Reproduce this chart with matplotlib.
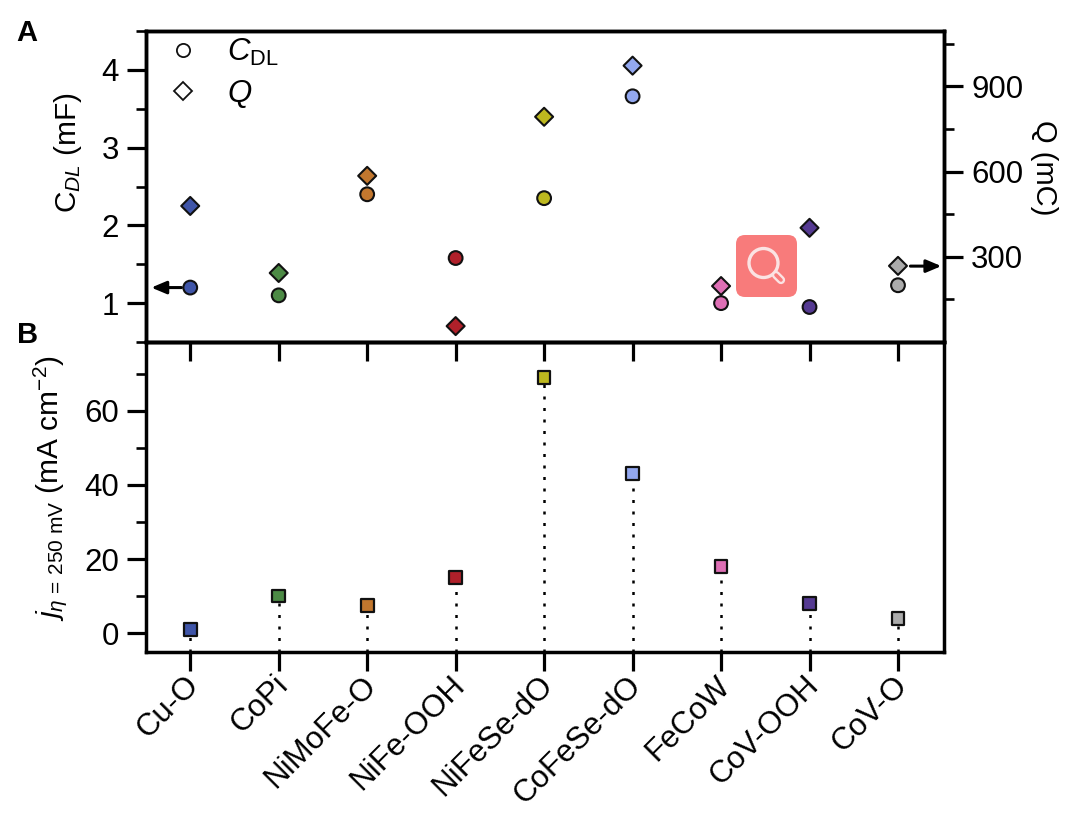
import matplotlib
matplotlib.use("Agg")
import matplotlib.pyplot as plt
from matplotlib.lines import Line2D
from matplotlib.patches import FancyBboxPatch, Circle
from matplotlib.ticker import FixedLocator
from matplotlib.transforms import ScaledTranslation

plt.rcParams['font.family'] = ['Liberation Sans', 'DejaVu Sans']
plt.rcParams['mathtext.fontset'] = 'custom'
plt.rcParams['mathtext.rm'] = 'Liberation Sans'
plt.rcParams['mathtext.it'] = 'Liberation Sans:italic'
plt.rcParams['mathtext.bf'] = 'Liberation Sans:bold'

catalysts = ["Cu-O", "CoPi", "NiMoFe-O", "NiFe-OOH", "NiFeSe-dO",
             "CoFeSe-dO", "FeCoW", "CoV-OOH", "CoV-O"]
cdl_mF = [1.2, 1.1, 2.4, 1.58, 2.35, 3.66, 1.0, 0.95, 1.23]
q_mC = [479, 243, 585, 56, 793, 973, 197, 402, 268]
j_mA = [1, 10, 7.5, 15, 69, 43, 18, 8, 4]
colors = ["#3F55A8", "#4C8A45", "#C2772E", "#B0202A", "#BDB81F",
          "#93A8F0", "#DE6FB5", "#553A92", "#ABABAB"]

W, H = 1070, 814
FS = 22.5
FS_LABEL = 21.5
fig = plt.figure(figsize=(W / 100, H / 100), dpi=100, facecolor='white')


def px_axes(x0, y0, x1, y1):
    return fig.add_axes([x0 / W, 1 - y1 / H, (x1 - x0) / W, (y1 - y0) / H])


ax_b = px_axes(146, 342, 944, 652)
ax_a = px_axes(146, 31, 944, 342)
ax_a.patch.set_visible(False)
ax_q = ax_a.twinx()

xs = list(range(len(catalysts)))
XLIM = (-0.5, 8.52)
for ax in (ax_a, ax_b, ax_q):
    ax.set_xlim(*XLIM)
    for s in ax.spines.values():
        s.set_linewidth(2.5)

# Panel A
ax_a.set_ylim(0.5, 4.5)
ax_q.set_ylim(0, 1095)
ax_a.scatter(xs, cdl_mF, marker='o', s=98, c=colors, edgecolors='#111111', linewidths=1.5, zorder=3)
ax_q.scatter(xs, q_mC, marker='D', s=84, c=colors, edgecolors='#111111', linewidths=1.5, zorder=3)

ax_a.yaxis.set_major_locator(FixedLocator([1, 2, 3, 4]))
ax_a.yaxis.set_minor_locator(FixedLocator([0.5, 1.5, 2.5, 3.5, 4.5]))
ax_q.yaxis.set_major_locator(FixedLocator([300, 600, 900]))
ax_q.yaxis.set_minor_locator(FixedLocator([150, 450, 750, 1050]))
ax_a.set_xticks(xs)
ax_a.set_xticklabels([])

ax_a.set_ylabel(r"C$_{\mathit{DL}}$ (mF)", fontsize=FS_LABEL)
ax_a.yaxis.set_label_coords(-0.078, 0.61)
ax_q.set_ylabel("Q (mC)", fontsize=21, rotation=270, va='center')
ax_q.yaxis.set_label_coords(1.125, 0.56)

arrow = dict(arrowstyle='-|>,head_length=0.9,head_width=0.38', color='black', lw=2.2,
             shrinkA=0, shrinkB=0)
ax_a.annotate('', xy=(-0.44, 1.2), xytext=(-0.1, 1.2), arrowprops=arrow, zorder=4)
ax_a.annotate('', xy=(8.49, 1.476), xytext=(8.14, 1.476), arrowprops=arrow, zorder=4)

handles = [
    Line2D([], [], ls='none', marker='o', ms=9.5, mfc='white', mec='#111111', mew=1.3),
    Line2D([], [], ls='none', marker='D', ms=9, mfc='white', mec='#111111', mew=1.3),
]
ax_a.legend(handles, [r"$\mathit{C}_{\mathrm{DL}}$", r"$\mathit{Q}$"], loc='upper left',
            bbox_to_anchor=(0.0, 1.017), frameon=False, fontsize=FS, handletextpad=0.6,
            labelspacing=0.33, borderpad=0.35, borderaxespad=0.0, handlelength=1.65)

# Panel B
ax_b.set_ylim(-5.1, 78.6)
ax_b.vlines(xs, -5.1, j_mA, colors='black', linewidth=1.8,
            linestyles=[(0, (1.2, 3.4))], zorder=2)
ax_b.scatter(xs, j_mA, marker='s', s=84, c=colors, edgecolors='#111111', linewidths=1.6, zorder=3)
ax_b.yaxis.set_major_locator(FixedLocator([0, 20, 40, 60]))
ax_b.yaxis.set_minor_locator(FixedLocator([10, 30, 50, 70]))
ax_b.set_xticks(xs)
ax_b.set_xticklabels(catalysts, rotation=45, ha='right', rotation_mode='anchor', fontsize=FS)
ax_b.set_ylabel(r"$\mathit{j}_{\eta\,=\,250\ \mathrm{mV}}$ (mA cm$^{-2}$)", fontsize=FS_LABEL)
ax_b.yaxis.set_label_coords(-0.096, 0.53)

for ax in (ax_a, ax_b, ax_q):
    ax.tick_params(axis='both', which='major', length=13.5, width=2.3, labelsize=FS, pad=6)
    ax.tick_params(axis='both', which='minor', length=7.5, width=1.9)
ax_q.tick_params(axis='x', which='both', bottom=False, top=False, labelbottom=False)
ax_b.tick_params(axis='x', which='major', pad=4)
shift = ScaledTranslation(-6 / 100, 6 / 100, fig.dpi_scale_trans)
for lab in ax_b.get_xticklabels():
    lab.set_transform(lab.get_transform() + shift)

# Overlay in pixel units: panel letters and the badge
ov = fig.add_axes([0, 0, 1, 1], zorder=10)
ov.set_xlim(0, W)
ov.set_ylim(H, 0)
ov.axis('off')
ov.text(16, 33, "A", fontsize=21, fontweight='bold', ha='left', va='center')
ov.text(17, 335, "B", fontsize=21, fontweight='bold', ha='left', va='center')

BADGE = "#F87B7B"
ov.add_patch(FancyBboxPatch((742, 241), 49, 50, boxstyle="round,pad=6,rounding_size=9",
                            fc=BADGE, ec='none'))
ov.add_patch(Circle((763.5, 263), 14.5, fc='none', ec='#FBE3E3', lw=2.4))
ov.plot([776, 781], [275, 280], color='#FBE3E3', lw=6.0, solid_capstyle='round')
ov.plot([776, 781], [275, 280], color=BADGE, lw=2.6, solid_capstyle='round')

fig.savefig("out.png", dpi=100)
